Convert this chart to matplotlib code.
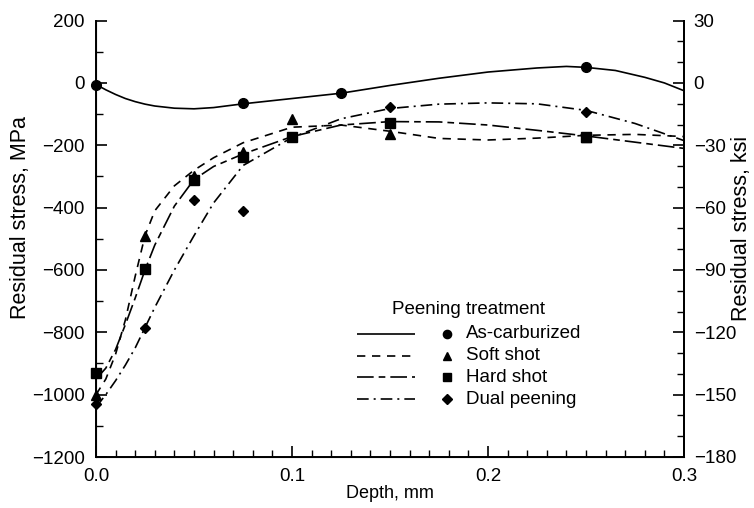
import matplotlib
matplotlib.use("Agg")
import matplotlib.pyplot as plt
from matplotlib.ticker import MultipleLocator
from matplotlib.lines import Line2D

plt.rcParams['font.family'] = ['Liberation Sans', 'DejaVu Sans']

# Measured residual stress points (MPa) vs depth (mm)
ac_depth = [0.0, 0.075, 0.125, 0.25]
ac_stress = [-5, -65, -33, 50]
soft_depth = [0.0, 0.025, 0.05, 0.075, 0.1, 0.15, 0.25]
soft_stress = [-1000, -490, -300, -220, -115, -165, -172]
hard_depth = [0.0, 0.025, 0.05, 0.075, 0.1, 0.15, 0.25]
hard_stress = [-930, -596, -310, -238, -174, -129, -172]
dual_depth = [0.0, 0.025, 0.05, 0.075, 0.15, 0.25]
dual_stress = [-1030, -786, -375, -412, -78, -92]

# Smoothed trend curves
ac_curve_x = [0.0, 0.005, 0.01, 0.015, 0.02, 0.025, 0.03, 0.04, 0.05, 0.06, 0.075,
              0.1, 0.125, 0.15, 0.175, 0.2, 0.225, 0.24, 0.25, 0.265, 0.28, 0.29, 0.3]
ac_curve_y = [-5, -22, -37, -50, -60, -68, -74, -81, -83, -79, -67,
              -50, -33, -8, 15, 35, 48, 53, 50, 40, 18, 0, -25]
soft_curve_x = [0.0, 0.005, 0.01, 0.015, 0.02, 0.025, 0.03, 0.04, 0.05, 0.06, 0.075,
                0.1, 0.125, 0.15, 0.175, 0.2, 0.225, 0.25, 0.275, 0.3]
soft_curve_y = [-1000, -950, -870, -760, -620, -490, -410, -330, -280, -240, -192,
                -142, -135, -155, -178, -183, -177, -168, -165, -172]
hard_curve_x = [0.0, 0.005, 0.01, 0.015, 0.02, 0.025, 0.03, 0.04, 0.05, 0.06, 0.075,
                0.1, 0.125, 0.15, 0.175, 0.2, 0.225, 0.25, 0.275, 0.3]
hard_curve_y = [-950, -915, -855, -775, -690, -600, -520, -395, -310, -268, -228,
                -172, -135, -124, -125, -135, -152, -170, -190, -210]
dual_curve_x = [0.0, 0.005, 0.01, 0.015, 0.02, 0.025, 0.03, 0.04, 0.05, 0.06, 0.075,
                0.1, 0.125, 0.15, 0.175, 0.2, 0.225, 0.25, 0.275, 0.3]
dual_curve_y = [-1040, -1000, -955, -905, -850, -785, -720, -600, -490, -385, -265,
                -175, -115, -82, -68, -64, -67, -88, -130, -185]

series = [
    ("As-carburized", ac_depth, ac_stress, ac_curve_x, ac_curve_y, 'o', (0, ()), 7),
    ("Soft shot", soft_depth, soft_stress, soft_curve_x, soft_curve_y, '^', (0, (5, 4)), 7),
    ("Hard shot", hard_depth, hard_stress, hard_curve_x, hard_curve_y, 's', (0, (10, 3, 4, 3)), 6.5),
    ("Dual peening", dual_depth, dual_stress, dual_curve_x, dual_curve_y, 'D', (0, (7, 3, 1.2, 3)), 5.5),
]

FS = 13.5
LFS = 15.5
W, H = 754, 508
L, R, T, B = 96, 684, 20.6, 457

fig = plt.figure(figsize=(W / 100, H / 100), dpi=100)
ax = fig.add_axes([L / W, 1 - B / H, (R - L) / W, (B - T) / H])

for name, dx, dy, cx, cy, mk, ls, ms in series:
    ax.plot(cx, cy, color='black', lw=1.2, linestyle=ls, clip_on=False)
    ax.plot(dx, dy, linestyle='none', marker=mk, color='black', ms=ms, clip_on=False, zorder=5)

ax.set_xlim(0, 0.3)
ax.set_ylim(-1200, 200)
ax.xaxis.set_minor_locator(MultipleLocator(0.01))
ax.yaxis.set_major_locator(MultipleLocator(200))
ax.yaxis.set_minor_locator(MultipleLocator(100))
ax.set_xticks([0, 0.1, 0.2, 0.3])
ax.set_xticklabels(['0.0', '0.1', '0.2', '0.3'])
ax.tick_params(axis='both', which='major', direction='in', length=8, width=1.2, labelsize=FS)
ax.tick_params(axis='both', which='minor', direction='in', length=5, width=1.0)
ax.tick_params(axis='x', pad=8)
ax.tick_params(axis='y', pad=8)
ax.spines['top'].set_visible(False)
for s in ('left', 'bottom', 'right'):
    ax.spines[s].set_linewidth(1.4)
ax.set_xlabel("Depth, mm", fontsize=13)
ax.xaxis.set_label_coords(0.5, (B - 485) / (B - T))
ax.set_ylabel("Residual stress, MPa", fontsize=LFS)
ax.yaxis.set_label_coords((31 - L) / (R - L), (B - 218) / (B - T))

ax2 = ax.twinx()
ax2.set_ylim(-180, 30)
ax2.yaxis.set_major_locator(MultipleLocator(30))
ax2.yaxis.set_minor_locator(MultipleLocator(10))
ax2.tick_params(axis='y', which='major', direction='in', length=8, width=1.2, labelsize=FS, pad=7)
ax2.tick_params(axis='y', which='minor', direction='in', length=5, width=1.0)
ax2.spines['top'].set_visible(False)
ax2.spines['right'].set_linewidth(1.4)
ax2.set_ylabel("Residual stress, ksi", fontsize=LFS)
ax2.yaxis.set_label_coords((731 - L) / (R - L), (B - 228) / (B - T))

# Legend block
fig.text(469 / W, 1 - 310 / H, "Peening treatment", ha='center', va='center', fontsize=FS)
rows = [334, 356, 377, 399]
for (name, dx, dy, cx, cy, mk, ls, ms), yr in zip(series, rows):
    yf = 1 - yr / H
    fig.add_artist(Line2D([357 / W, 415 / W], [yf, yf], color='black', lw=1.2,
                          linestyle=ls, transform=fig.transFigure))
    fig.add_artist(Line2D([447 / W], [yf], marker=mk, color='black', ms=ms * 0.85,
                          linestyle='none', transform=fig.transFigure))
    fig.text(466 / W, yf, name, ha='left', va='center', fontsize=FS)

fig.savefig("out.png", dpi=100)
